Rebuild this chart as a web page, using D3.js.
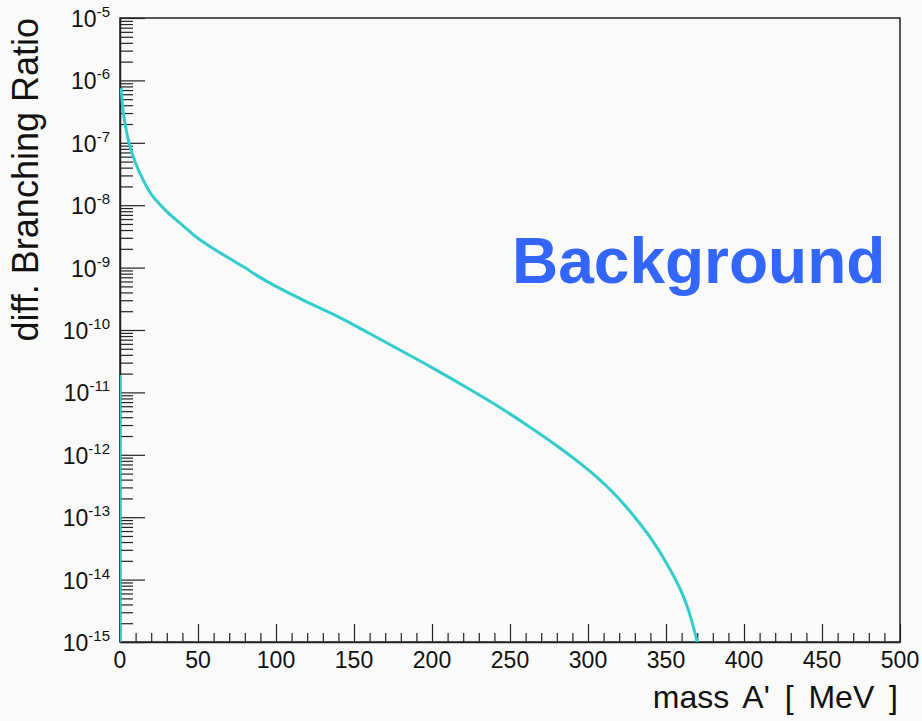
<!DOCTYPE html>
<html>
<head>
<meta charset="utf-8">
<script src="https://cdn.jsdelivr.net/npm/d3@7"></script>
<style>
  body { margin: 0; background: #fafafa; }
  svg { display: block; font-family: "Liberation Sans", Arial, sans-serif; }
</style>
</head>
<body>
<svg id="chart"></svg>
<script>
    // first bins (histogram step at the origin)
    var massStart = [0, 0, 0.8];
    var ratioStart = [1e-15, 1.8e-11, 1.8e-11];

    // main curve
    var mass = [0.8, 2, 4, 6, 10, 15, 20, 30, 40, 50, 60, 70, 80, 90, 100, 120, 140, 160, 180,
                200, 220, 240, 260, 280, 300, 310, 320, 330, 340, 350, 360, 365, 370];
    var ratio = [7.5e-7, 3.2e-7, 1.6e-7, 9.5e-8, 4.7e-8, 2.5e-8, 1.5e-8, 7.9e-9, 4.8e-9, 2.95e-9,
                 2.0e-9, 1.41e-9, 1.0e-9, 6.9e-10, 5.0e-10, 2.8e-10, 1.62e-10, 8.8e-11, 4.7e-11,
                 2.5e-11, 1.29e-11, 6.5e-12, 3.1e-12, 1.4e-12, 5.8e-13, 3.5e-13, 1.95e-13, 1.0e-13,
                 4.7e-14, 1.9e-14, 6.3e-15, 2.9e-15, 1e-15];

    var xMajor = [0, 50, 100, 150, 200, 250, 300, 350, 400, 450, 500];
    var yExponents = [-15, -14, -13, -12, -11, -10, -9, -8, -7, -6, -5];

    var width = 922;
    var height = 721;
    var padL = 120, padR = 900, padT = 18, padB = 642;

    var chart = d3.select('#chart')
        .attr('width', width)
        .attr('height', height);

    chart.append('rect').attr('width', width).attr('height', height).attr('fill', '#fafafa');

    var x = d3.scaleLinear().domain([0, 500]).range([padL, padR]);
    var y = d3.scaleLog().domain([1e-15, 1e-5]).range([padB, padT]);

    // minor ticks
    var xMinor = d3.range(0, 501, 10);
    var yTicks = [];
    yExponents.forEach(function(e) {
        if (e === -5) { yTicks.push(1e-5); return; }
        for (var k = 1; k <= 9; k++) yTicks.push(k * Math.pow(10, e));
    });

    // -----------------------------------
    // frame
    chart.append('rect')
        .attr('x', padL).attr('y', padT)
        .attr('width', padR - padL).attr('height', padB - padT)
        .attr('fill', 'none')
        .attr('stroke', '#222')
        .attr('stroke-width', 1.5);

    // x axis
    var xAxis = d3.axisBottom(x).tickValues(xMinor).tickSize(-9).tickSizeOuter(0).tickFormat('');
    var axisX = chart.append('g').attr('transform', 'translate(0,' + padB + ')').call(xAxis);
    axisX.select('.domain').attr('stroke', '#222').attr('stroke-width', 1.5);
    axisX.selectAll('.tick line')
        .attr('stroke', '#222')
        .attr('stroke-width', 1.2)
        .attr('y2', function(d) { return d % 50 === 0 ? -18 : -9; });

    chart.append('g').selectAll('text')
        .data(xMajor)
        .enter().append('text')
        .attr('x', function(d) { return x(d); })
        .attr('y', padB + 26)
        .attr('text-anchor', 'middle')
        .attr('font-size', 23)
        .attr('fill', '#111')
        .text(function(d) { return d; });

    // y axis
    var yAxis = d3.axisLeft(y).tickValues(yTicks).tickSize(-13).tickSizeOuter(0).tickFormat('');
    var axisY = chart.append('g').attr('transform', 'translate(' + padL + ',0)').call(yAxis);
    axisY.select('.domain').attr('stroke', '#222').attr('stroke-width', 1.5);
    axisY.selectAll('.tick line')
        .attr('stroke', '#222')
        .attr('stroke-width', 1.2)
        .attr('x2', function(d) {
            var m = d / Math.pow(10, Math.round(Math.log10(d)));
            return Math.abs(m - 1) < 1e-6 ? 25 : 13;
        });

    var yLab = chart.append('g').selectAll('text')
        .data(yExponents)
        .enter().append('text')
        .attr('x', padL - 10)
        .attr('y', function(e) { return y(Math.pow(10, e)) + 9; })
        .attr('text-anchor', 'end')
        .attr('font-size', 23)
        .attr('fill', '#111');
    yLab.append('tspan').text('10');
    yLab.append('tspan')
        .attr('font-size', 15)
        .attr('dy', -10)
        .text(function(e) { return e; });

    // axis titles
    chart.append('text')
        .attr('transform', 'translate(38,' + padT + ') rotate(-90)')
        .attr('text-anchor', 'end')
        .attr('font-size', 36)
        .attr('fill', '#111')
        .text('diff. Branching Ratio');

    chart.append('text')
        .attr('x', 898)
        .attr('y', 708)
        .attr('text-anchor', 'end')
        .attr('font-size', 32)
        .attr('word-spacing', 6)
        .attr('fill', '#111')
        .text("mass A' [ MeV ]");

    // curve
    chart.append('clipPath').attr('id', 'plot')
        .append('rect').attr('x', padL).attr('y', padT)
        .attr('width', padR - padL).attr('height', padB - padT);

    var plot = chart.append('g').attr('clip-path', 'url(#plot)');

    var stepLine = d3.line()
        .x(function(d, i) { return x(massStart[i]); })
        .y(function(d, i) { return y(ratioStart[i]); });

    var curveLine = d3.line()
        .curve(d3.curveCatmullRom.alpha(0.5))
        .x(function(d, i) { return x(mass[i]); })
        .y(function(d, i) { return y(ratio[i]); });

    plot.append('path')
        .datum(massStart)
        .attr('d', stepLine)
        .attr('fill', 'none')
        .attr('stroke', '#33cccc')
        .attr('stroke-width', 3);

    plot.append('path')
        .datum(mass)
        .attr('d', curveLine)
        .attr('fill', 'none')
        .attr('stroke', '#33cccc')
        .attr('stroke-width', 3);

    // label
    chart.append('text')
        .attr('x', 512)
        .attr('y', 283)
        .attr('font-size', 64)
        .attr('font-weight', 'bold')
        .attr('fill', '#3366ff')
        .text('Background');
</script>
</body>
</html>
